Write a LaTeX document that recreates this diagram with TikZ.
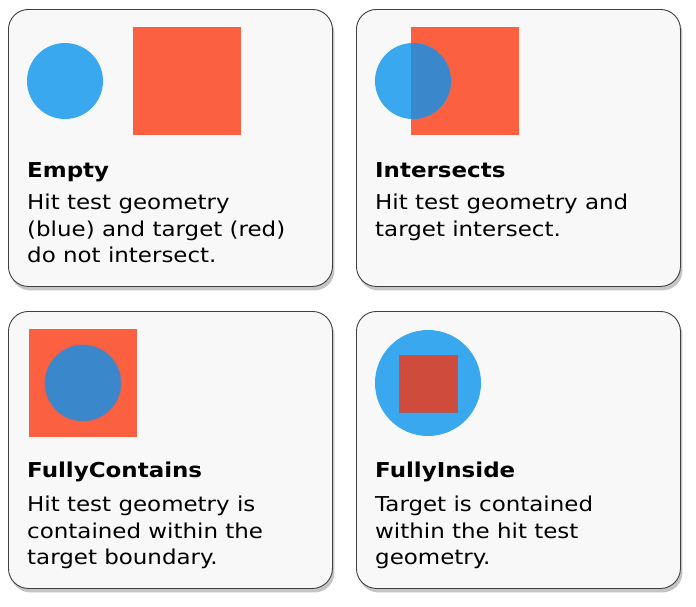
\documentclass[tikz,border=0pt]{standalone}
\usepackage{fontspec}
\setmainfont{DejaVu Sans}[FakeStretch=1.12]
\usetikzlibrary{shadows}
\definecolor{hitblue}{HTML}{3AA8EF}
\definecolor{darkblue}{HTML}{3A87CB}
\definecolor{targetred}{HTML}{FB6040}
\definecolor{darkred}{HTML}{CF4B3C}
\definecolor{panelfill}{HTML}{F8F8F8}
\tikzset{
  panel/.style={draw=black!75, fill=panelfill, line width=0.9pt, rounded corners=20pt,
    minimum width=324pt, minimum height=277pt, anchor=north west, inner sep=0pt,
    drop shadow={shadow xshift=2pt, shadow yshift=-4pt, opacity=0.45}},
  title/.style={anchor=base west, inner sep=0pt, font=\bfseries\fontsize{20.5}{24}\selectfont},
  body/.style={anchor=north west, inner sep=0pt, align=left, font=\fontsize{20.5}{26.3}\selectfont},
}
\begin{document}
\begin{tikzpicture}[x=1pt,y=-1pt]
\useasboundingbox[fill=white] (0,0) rectangle (696,606);
% the four panels
\node[panel] (empty) at (8,9) {};
\node[panel] (inter) at (356,9) {};
\node[panel] (contains) at (8,311) {};
\node[panel] (inside) at (356,311) {};
% Empty
\fill[hitblue] (65,81) circle (38);
\fill[targetred] (133,27) rectangle (241,135);
\node[title] (emptytitle) at (27,177) {Empty};
\node[body] (emptytext) at (27,194) {Hit test geometry\\(blue) and target (red)\\do not intersect.};
% Intersects
\fill[targetred] (411,27) rectangle (519,135);
\fill[hitblue] (413,81) circle (38);
\begin{scope}
\clip (411,27) rectangle (519,135);
\fill[darkblue] (413,81) circle (38);
\end{scope}
\node[title] (intertitle) at (375,177) {Intersects};
\node[body] (intertext) at (375,194) {Hit test geometry and\\target intersect.};
% FullyContains
\fill[targetred] (29,329) rectangle (137,437);
\filldraw[fill=darkblue, draw=darkblue!70!targetred, line width=0.8pt] (83,383) circle (38);
\node[title] (containstitle) at (27,477) {FullyContains};
\node[body] (containstext) at (27,496) {Hit test geometry is\\contained within the\\target boundary.};
% FullyInside
\fill[hitblue] (428,383) circle (53);
\filldraw[fill=darkred, draw=darkred!70!darkblue, line width=0.8pt] (399,355) rectangle (457,412);
\node[title] (insidetitle) at (375,477) {FullyInside};
\node[body] (insidetext) at (375,496) {Target is contained\\within the hit test\\geometry.};
\end{tikzpicture}
\end{document}
